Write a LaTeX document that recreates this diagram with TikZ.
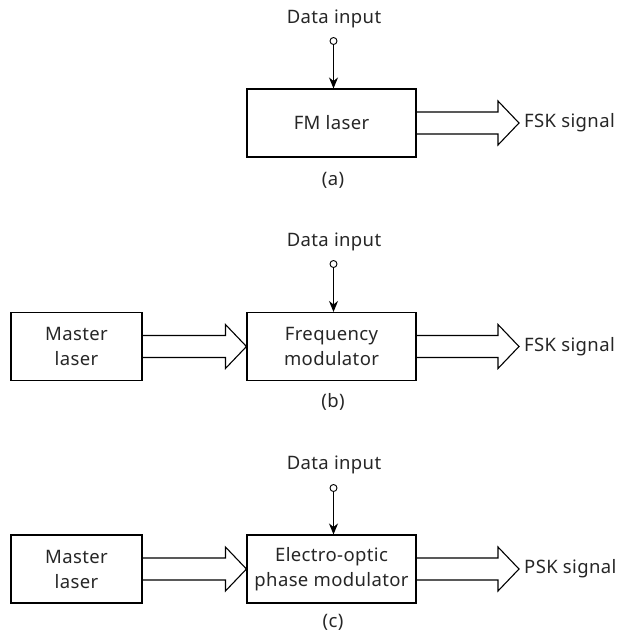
\documentclass[tikz,border=0pt]{standalone}
\usepackage{fontspec}
\setmainfont{Noto Sans}[LetterSpace=2]
\usetikzlibrary{calc,arrows.meta}
\newcommand\fatarrow[2]{%
  \draw[line width=1.1pt,line join=miter] ($(#1)+(0,-11)$) -- ($(#2)+(-21,-11)$) -- ($(#2)+(-21,-22)$) -- (#2) -- ($(#2)+(-21,22)$) -- ($(#2)+(-21,11)$) -- ($(#1)+(0,11)$);}
\begin{document}
\begin{tikzpicture}[x=1pt,y=-1pt,
  every node/.style={font=\fontsize{18.5}{25}\selectfont,text=black!85},
  blockbox/.style={draw,line width=1.1pt,align=center,inner sep=0pt},
  bigbox/.style={blockbox,minimum width=169pt,minimum height=68pt},
  smallbox/.style={blockbox,minimum width=131pt,minimum height=68pt},
  term/.style={circle,draw,line width=0.9pt,inner sep=0pt,minimum size=7pt},
  feed/.style={line width=1pt,-{Stealth[length=11pt,width=9pt]}},
  lbl/.style={inner sep=0pt}]
\useasboundingbox (0,0) rectangle (630,633);
% (a)
\node[bigbox] (fm) at (331.5,123) {FM laser};
\node[lbl] (da) at (334,19) {Data input};
\node[term] (ta) at (333.5,41) {};
\draw[feed] (ta.south) -- (ta.south |- fm.north);
\coordinate (oa) at (519,123);
\fatarrow{fm.east}{oa}
\node[lbl,anchor=west] (fska) at (524,123) {FSK signal};
\node[lbl] (la) at (333,180) {(a)};
% (b)
\node[smallbox] (mb) at (76.5,346.5) {Master\\laser};
\node[bigbox] (fq) at (331.5,346.5) {Frequency\\modulator};
\node[lbl] (db) at (334,242) {Data input};
\node[term] (tb) at (333.5,264) {};
\draw[feed] (tb.south) -- (tb.south |- fq.north);
\fatarrow{mb.east}{fq.west}
\coordinate (ob) at (519,346.5);
\fatarrow{fq.east}{ob}
\node[lbl,anchor=west] (fskb) at (524,346.5) {FSK signal};
\node[lbl] (lb) at (333,402) {(b)};
% (c)
\node[smallbox] (mc) at (76.5,569) {Master\\laser};
\node[bigbox] (eo) at (331.5,569) {Electro-optic\\phase modulator};
\node[lbl] (dc) at (334,465) {Data input};
\node[term] (tc) at (333.5,488) {};
\draw[feed] (tc.south) -- (tc.south |- eo.north);
\fatarrow{mc.east}{eo.west}
\coordinate (oc) at (519,569);
\fatarrow{eo.east}{oc}
\node[lbl,anchor=west] (psk) at (524,569) {PSK signal};
\node[lbl] (lc) at (333,622) {(c)};
\end{tikzpicture}
\end{document}
